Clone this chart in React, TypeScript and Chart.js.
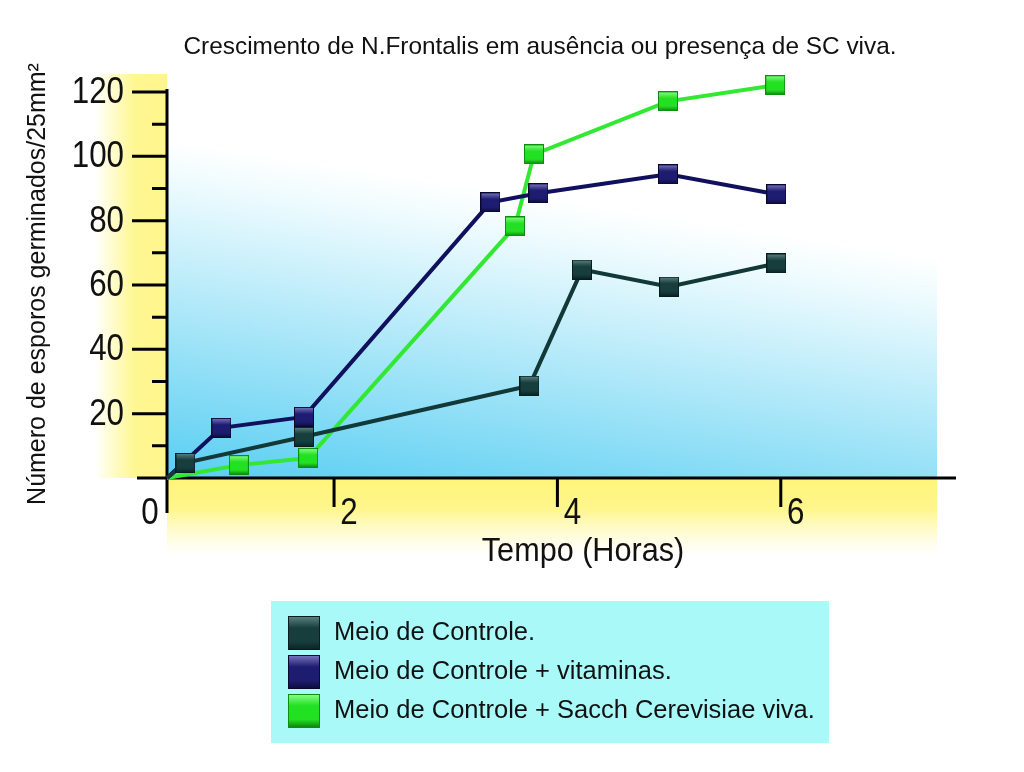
import React, { useEffect, useRef } from 'react';
import { Chart, registerables, LinearScale } from 'chart.js';

Chart.register(...registerables);

// ---------- text ----------
const TITLE = 'Crescimento de N.Frontalis em ausência ou presença de SC viva.';
const Y_TITLE = 'Número de esporos germinados/25mm²';
const X_TITLE = 'Tempo (Horas)';
const SERIES_LABELS = [
  'Meio de Controle.',
  'Meio de Controle + vitaminas.',
  'Meio de Controle + Sacch Cerevisiae viva.',
];

// ---------- data (hours, spores) ----------
const controleHours = [0, 0.22, 1.64, 3.75, 4.22, 5.0, 5.96];
const controleValues = [0, 4.7, 12.8, 28.7, 64.8, 59.5, 66.7];

const vitaminasHours = [0, 0.65, 1.64, 3.4, 3.83, 4.99, 5.96];
const vitaminasValues = [0, 15.6, 19.0, 85.7, 88.5, 94.4, 88.2];

const sacchHours = [0, 0.86, 1.69, 3.62, 3.79, 4.99, 5.95];
const sacchValues = [0, 4.0, 6.2, 78.2, 100.6, 117.1, 122.1];

// ---------- ticks ----------
const X_TICKS = [0, 2, 4, 6];
const Y_LABEL_TICKS = [20, 40, 60, 80, 100, 120];
const Y_MINOR_TICKS = [10, 30, 50, 70, 90, 110];
const Y_MAX = 120;
const X_MAX = 7.56;

// ---------- style ----------
const FONT = '"Liberation Sans", Arial, sans-serif';
const TEXT_COLOR = '#111111';
const LINE_COLORS = ['#123838', '#10105e', '#33e833'];
const MARKER_COLORS = [
  { top: '#5f8585', mid: '#173d3d', bottom: '#0a2222', border: '#081c1c' },
  { top: '#7d79c4', mid: '#1e1c70', bottom: '#0b0b3c', border: '#08082c' },
  { top: '#8cff8c', mid: '#22e022', bottom: '#0b7a0b', border: '#0e8e0e' },
];

// The drawn time axis has a compressed first interval (0–2 h) relative to the rest.
const X_BREAK = 2;
const FIRST_SEG_SHARE = 0.212;

class CompressedStartScale extends LinearScale {
  static id = 'compressedStart';
  static defaults = {};
  _frac(v: number) {
    const min = this.min as number;
    const max = this.max as number;
    if (v <= X_BREAK) return ((v - min) / (X_BREAK - min)) * FIRST_SEG_SHARE;
    return FIRST_SEG_SHARE + ((v - X_BREAK) / (max - X_BREAK)) * (1 - FIRST_SEG_SHARE);
  }
  getPixelForValue(v: number) {
    if (v === null || v === undefined) return NaN;
    return this.getPixelForDecimal(this._frac(v));
  }
  getValueForPixel(p: number) {
    const d = this.getDecimalForPixel(p);
    const min = this.min as number;
    const max = this.max as number;
    if (d <= FIRST_SEG_SHARE) return min + (d / FIRST_SEG_SHARE) * (X_BREAK - min);
    return X_BREAK + ((d - FIRST_SEG_SHARE) / (1 - FIRST_SEG_SHARE)) * (max - X_BREAK);
  }
}
Chart.register(CompressedStartScale as any);

function fillGradSquare(ctx: CanvasRenderingContext2D, x: number, y: number, w: number, h: number, c: any) {
  const g = ctx.createLinearGradient(0, y, 0, y + h);
  g.addColorStop(0, c.top);
  g.addColorStop(0.35, c.mid);
  g.addColorStop(0.75, c.mid);
  g.addColorStop(1, c.bottom);
  ctx.fillStyle = g;
  ctx.fillRect(x, y, w, h);
  ctx.strokeStyle = c.border;
  ctx.lineWidth = 1;
  ctx.strokeRect(x + 0.5, y + 0.5, w - 1, h - 1);
}

function makeMarker(c: any) {
  const cv = document.createElement('canvas');
  cv.width = 20;
  cv.height = 20;
  const ctx = cv.getContext('2d')!;
  fillGradSquare(ctx, 0, 0, 20, 20, c);
  return cv;
}

function drawText(
  ctx: CanvasRenderingContext2D,
  s: string,
  x: number,
  y: number,
  size: number,
  align: CanvasTextAlign,
  hscale = 1,
  rotate = 0,
) {
  ctx.save();
  ctx.translate(x, y);
  if (rotate) ctx.rotate(rotate);
  ctx.scale(hscale, 1);
  ctx.font = `${size}px ${FONT}`;
  ctx.textAlign = align;
  ctx.textBaseline = 'middle';
  ctx.fillStyle = TEXT_COLOR;
  ctx.fillText(s, 0, 0);
  ctx.restore();
}

const decorPlugin = {
  id: 'decor',
  beforeDraw(chart: any) {
    const ctx: CanvasRenderingContext2D = chart.ctx;
    const xs = chart.scales.x;
    const ys = chart.scales.y;
    const x0 = xs.getPixelForValue(0);
    const y0 = ys.getPixelForValue(0);
    const shadeRight = 937;
    ctx.save();
    ctx.fillStyle = '#ffffff';
    ctx.fillRect(0, 0, chart.width, chart.height);

    // blue diagonal shading in plot area
    const bg = ctx.createLinearGradient(300, 160, 249, 491);
    bg.addColorStop(0, 'rgba(255,255,255,1)');
    bg.addColorStop(0.12, '#eefbfe');
    bg.addColorStop(1, '#58cef2');
    ctx.fillStyle = bg;
    ctx.fillRect(x0, 60, shadeRight - x0, y0 - 60);

    // yellow strip left of y axis
    const yl = ctx.createLinearGradient(95, 0, x0, 0);
    yl.addColorStop(0, 'rgba(255,247,140,0)');
    yl.addColorStop(0.55, 'rgba(255,247,145,1)');
    yl.addColorStop(1, '#fff58c');
    ctx.fillStyle = yl;
    ctx.fillRect(95, 74, x0 - 95, y0 - 74);

    // yellow strip below x axis
    const yb = ctx.createLinearGradient(0, y0, 0, y0 + 78);
    yb.addColorStop(0, '#fff47a');
    yb.addColorStop(0.4, '#fff68c');
    yb.addColorStop(1, 'rgba(255,250,190,0)');
    ctx.fillStyle = yb;
    ctx.fillRect(x0, y0, shadeRight - x0, 78);
    ctx.restore();
  },
  beforeDatasetsDraw(chart: any) {
    const ctx: CanvasRenderingContext2D = chart.ctx;
    const xs = chart.scales.x;
    const ys = chart.scales.y;
    const x0 = xs.getPixelForValue(0);
    const y0 = ys.getPixelForValue(0);
    const yTop = ys.getPixelForValue(Y_MAX);
    ctx.save();
    ctx.strokeStyle = '#000';
    ctx.lineWidth = 3;
    ctx.lineCap = 'butt';
    ctx.beginPath();
    // y axis
    ctx.moveTo(x0, yTop - 3);
    ctx.lineTo(x0, y0 + 35);
    // x axis
    ctx.moveTo(x0 - 30, y0);
    ctx.lineTo(chart.chartArea.right + 1, y0);
    // y major ticks
    Y_LABEL_TICKS.forEach((v) => {
      const y = ys.getPixelForValue(v);
      ctx.moveTo(x0 - 35, y);
      ctx.lineTo(x0, y);
    });
    Y_MINOR_TICKS.forEach((v) => {
      const y = ys.getPixelForValue(v);
      ctx.moveTo(x0 - 15, y);
      ctx.lineTo(x0, y);
    });
    X_TICKS.forEach((v) => {
      if (v === 0) return;
      const x = xs.getPixelForValue(v);
      ctx.moveTo(x, y0);
      ctx.lineTo(x, y0 + 29);
    });
    ctx.stroke();

    // y tick labels
    Y_LABEL_TICKS.forEach((v) => {
      drawText(ctx, String(v), x0 - 43, ys.getPixelForValue(v) + 1, 36, 'right', 0.87);
    });
    // x tick labels
    X_TICKS.forEach((v) => {
      const x = xs.getPixelForValue(v);
      drawText(ctx, String(v), v === 0 ? x - 17 : x + 15, y0 + 36, 36, 'center', 0.87);
    });
    // titles
    drawText(ctx, X_TITLE, 583, 552, 34, 'center', 0.9);
    drawText(ctx, Y_TITLE, 38, 284, 25, 'center', 1, -Math.PI / 2);
    drawText(ctx, TITLE, 540, 47, 24.4, 'center', 1);
    ctx.restore();
  },
  afterDraw(chart: any) {
    const ctx: CanvasRenderingContext2D = chart.ctx;
    ctx.save();
    ctx.fillStyle = '#aaf9f9';
    ctx.fillRect(271, 601, 558, 142);
    const rows = [633, 672, 711];
    chart.data.datasets.forEach((ds: any, i: number) => {
      fillGradSquare(ctx, 288, rows[i] - 17, 32, 34, MARKER_COLORS[i]);
      drawText(ctx, ds.label, 334, rows[i], 26, 'left', 0.98);
    });
    ctx.restore();
  },
};

function toPoints(xs: number[], ys: number[]) {
  return xs.map((x, i) => ({ x, y: ys[i] }));
}

export default function App() {
  const ref = useRef<HTMLCanvasElement | null>(null);
  useEffect(() => {
    if (!ref.current) return;
    const markers = MARKER_COLORS.map(makeMarker);
    const series = [
      toPoints(controleHours, controleValues),
      toPoints(vitaminasHours, vitaminasValues),
      toPoints(sacchHours, sacchValues),
    ];
    const chart = new Chart(ref.current, {
      type: 'line',
      data: {
        datasets: series.map((data, i) => ({
          label: SERIES_LABELS[i],
          data,
          borderColor: LINE_COLORS[i],
          backgroundColor: LINE_COLORS[i],
          borderWidth: 4,
          pointStyle: markers[i] as any,
          pointRadius: data.map((p) => (p.x === 0 && p.y === 0 ? 0 : 9)),
          tension: 0,
          clip: false as any,
        })),
      },
      options: {
        animation: false,
        responsive: false,
        devicePixelRatio: 1,
        layout: { padding: { left: 167, right: 69, top: 92, bottom: 294 } },
        scales: {
          x: { type: 'compressedStart' as any, min: 0, max: X_MAX, display: false },
          y: { type: 'linear', min: 0, max: Y_MAX, display: false },
        },
        plugins: {
          legend: { display: false },
          title: { display: false },
          tooltip: { enabled: false },
        },
        events: [],
      },
      plugins: [decorPlugin],
    });
    return () => chart.destroy();
  }, []);
  return (
    <div style={{ position: 'absolute', left: 0, top: 0, width: 1024, height: 772 }}>
      <canvas ref={ref} width={1024} height={772} style={{ display: 'block', width: 1024, height: 772 }} />
    </div>
  );
}
